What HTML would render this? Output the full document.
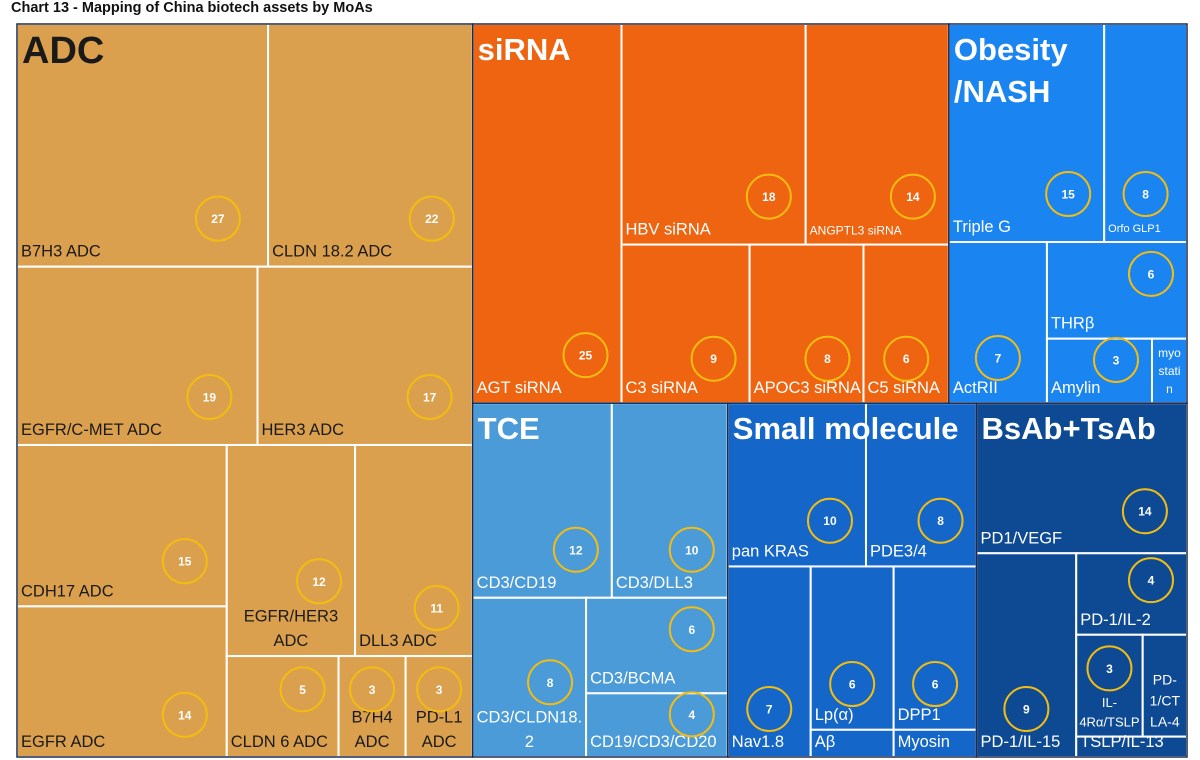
<!DOCTYPE html>
<html><head><meta charset="utf-8">
<style>
html,body{margin:0;padding:0;background:#fff;}
body{width:1200px;height:760px;overflow:hidden;font-family:"Liberation Sans",Arial,sans-serif;}
#title{position:absolute;left:11px;top:0px;font-size:14.5px;font-weight:bold;color:#111;}
svg{position:absolute;left:0;top:0;}
</style></head>
<body>
<div id="title">Chart 13 - Mapping of China biotech assets by MoAs</div>
<svg id="chart" width="1200" height="760"></svg>
<script>
// ---- data ----
const adcLabels = ["B7H3 ADC","CLDN 18.2 ADC","EGFR/C-MET ADC","HER3 ADC","CDH17 ADC","EGFR ADC","EGFR/HER3\nADC","DLL3 ADC","CLDN 6 ADC","B7H4\nADC","PD-L1\nADC"];
const adcValues = [27,22,19,17,15,14,12,11,5,3,3];
const sirnaLabels = ["AGT siRNA","HBV siRNA","ANGPTL3 siRNA","C3 siRNA","APOC3 siRNA","C5 siRNA"];
const sirnaValues = [25,18,14,9,8,6];
const obesityLabels = ["Triple G","Orfo GLP1","ActRII","THRβ","Amylin","myo\nstati\nn"];
const obesityValues = [15,8,7,6,3,1];
const tceLabels = ["CD3/CD19","CD3/DLL3","CD3/CLDN18.\n2","CD3/BCMA","CD19/CD3/CD20"];
const tceValues = [12,10,8,6,4];
const smLabels = ["pan KRAS","PDE3/4","Nav1.8","Lp(α)","DPP1","Aβ","Myosin"];
const smValues = [10,8,7,6,6,1,1];
const bsLabels = ["PD1/VEGF","PD-1/IL-15","PD-1/IL-2","IL-\n4Rα/TSLP","PD-\n1/CT\nLA-4","TSLP/IL-13"];
const bsValues = [14,9,4,3,2,1];

const NS="http://www.w3.org/2000/svg";
const svg=document.getElementById('chart');
function mk(tag,attrs){const e=document.createElementNS(NS,tag);for(const k in attrs)e.setAttribute(k,attrs[k]);return e;}

const small={"ANGPTL3 siRNA":12,"Orfo GLP1":11,"myo\nstati\nn":12,"IL-\n4Rα/TSLP":13,"PD-\n1/CT\nLA-4":14};
function leaf(labels,values,i){return {label:labels[i],value:values[i]};}
function H(...c){return {dir:'h',children:c};}
function V(...c){return {dir:'v',children:c};}
function wsum(n){return n.children?n.children.reduce((s,c)=>s+wsum(c),0):n.value;}

function makeGroup(name,labels,values,build,fill,textColor){
  const L=i=>leaf(labels,values,i);
  const t=build(L);t.group={name,fill,textColor};return t;
}
const adc=makeGroup("ADC",adcLabels,adcValues,L=>V(H(L(0),L(1)),H(L(2),L(3)),H(V(L(4),L(5)),V(H(L(6),L(7)),H(L(8),L(9),L(10))))),"#DBA04E","#1a1a1a");
const sirna=makeGroup("siRNA",sirnaLabels,sirnaValues,L=>H(L(0),V(H(L(1),L(2)),H(L(3),L(4),L(5)))),"#EE6410","#fff");
const obesity=makeGroup("Obesity\n/NASH",obesityLabels,obesityValues,L=>V(H(L(0),L(1)),H(L(2),V(L(3),H(L(4),L(5))))),"#1A84F0","#fff");
const tce=makeGroup("TCE",tceLabels,tceValues,L=>V(H(L(0),L(1)),H(L(2),V(L(3),L(4)))),"#4A9BD8","#fff");
const sm=makeGroup("Small molecule",smLabels,smValues,L=>V(H(L(0),L(1)),H(L(2),V(H(L(3),L(4)),H(L(5),L(6))))),"#1467C8","#fff");
const bs=makeGroup("BsAb+TsAb",bsLabels,bsValues,L=>V(L(0),H(L(1),V(L(2),V(H(L(3),L(4)),L(5))))),"#0E4A93","#fff");

const root=H(adc,V(H(sirna,obesity),H(tce,sm,bs)));

const leaves=[],groups=[];
function layout(n,x,y,w,h,g){
  if(n.group){g=n.group;groups.push({g,x,y,w,h});}
  if(!n.children){leaves.push({n,x,y,w,h,g});return;}
  const tot=wsum(n);let off=0;
  n.children.forEach(c=>{
    const f=wsum(c)/tot;
    if(n.dir==='h'){layout(c,x+off,y,w*f,h,g);off+=w*f;}
    else{layout(c,x,y+off,w,h*f,g);off+=h*f;}
  });
}
layout(root,17,24,1170,733,null);

groups.forEach(G=>{
  const r=mk('rect',{x:G.x,y:G.y,width:G.w,height:G.h,fill:G.g.fill});
  
  
  svg.appendChild(r);
});
leaves.forEach(L=>{
  const {n,x,y,w,h,g}=L;
  const slug=n.label.replace(/\n/g,'').replace(/[^a-z0-9]+/gi,'-').toLowerCase();
  const grp=mk('g',{});
  
  
  grp.appendChild(mk('rect',{x:x,y:y,width:w,height:h,fill:g.fill,stroke:'#fff','stroke-width':2}));
  const fs=small[n.label]||16.5;
  const lines=n.label.split('\n');
  const lh=fs*1.5;
  const centered=lines.length>1;
  const t=mk('text',{fill:g.textColor,'font-size':fs,'font-family':'"Liberation Sans",Arial,sans-serif'});
  
  
  lines.forEach((ln,i)=>{
    const ts=mk('tspan',{x:centered?x+w/2:x+4,y:y+h-10-(lines.length-1-i)*lh});
    if(centered)ts.setAttribute('text-anchor','middle');
    ts.textContent=ln;t.appendChild(ts);
  });
  grp.appendChild(t);
  if(n.value>=3){
    const r=Math.min(22,w/2-8);
    const cx=w<100?x+w/2:Math.min(x+w-36,x+w*0.8);
    let cy;
    if(h<130) cy=y+h*0.33;
    else cy=Math.min(y+h-Math.min(h*0.28,48),y+h-34-(lines.length-1)*lh-(lines.length>1?16:0));
    const c=mk('circle',{cx:cx,cy:cy,r:r,fill:'none',stroke:'#F2BC12','stroke-width':2});
    
    
    grp.appendChild(c);
    const nt=mk('text',{x:cx,y:cy+4.5,'text-anchor':'middle',fill:'#fff','font-size':12,'font-weight':'bold','font-family':'"Liberation Sans",Arial,sans-serif'});
    
    
    nt.textContent=n.value;
    grp.appendChild(nt);
  }
  svg.appendChild(grp);
});
groups.forEach(G=>{
  const o=mk('rect',{x:G.x,y:G.y,width:G.w,height:G.h,fill:'none',stroke:'#1c2a4c','stroke-width':1.5});
  
  
  svg.appendChild(o);
  const big=G.g.name==="ADC";
  const fs=big?38:31;
  const t=mk('text',{fill:G.g.textColor,'font-size':fs,'font-weight':'bold','font-family':'"Liberation Sans",Arial,sans-serif'});
  
  
  G.g.name.split('\n').forEach((ln,i)=>{
    const ts=mk('tspan',{x:G.x+5,y:G.y+(big?39:36)+i*42});
    ts.textContent=ln;t.appendChild(ts);
  });
  svg.appendChild(t);
});
</script>
</body></html>
